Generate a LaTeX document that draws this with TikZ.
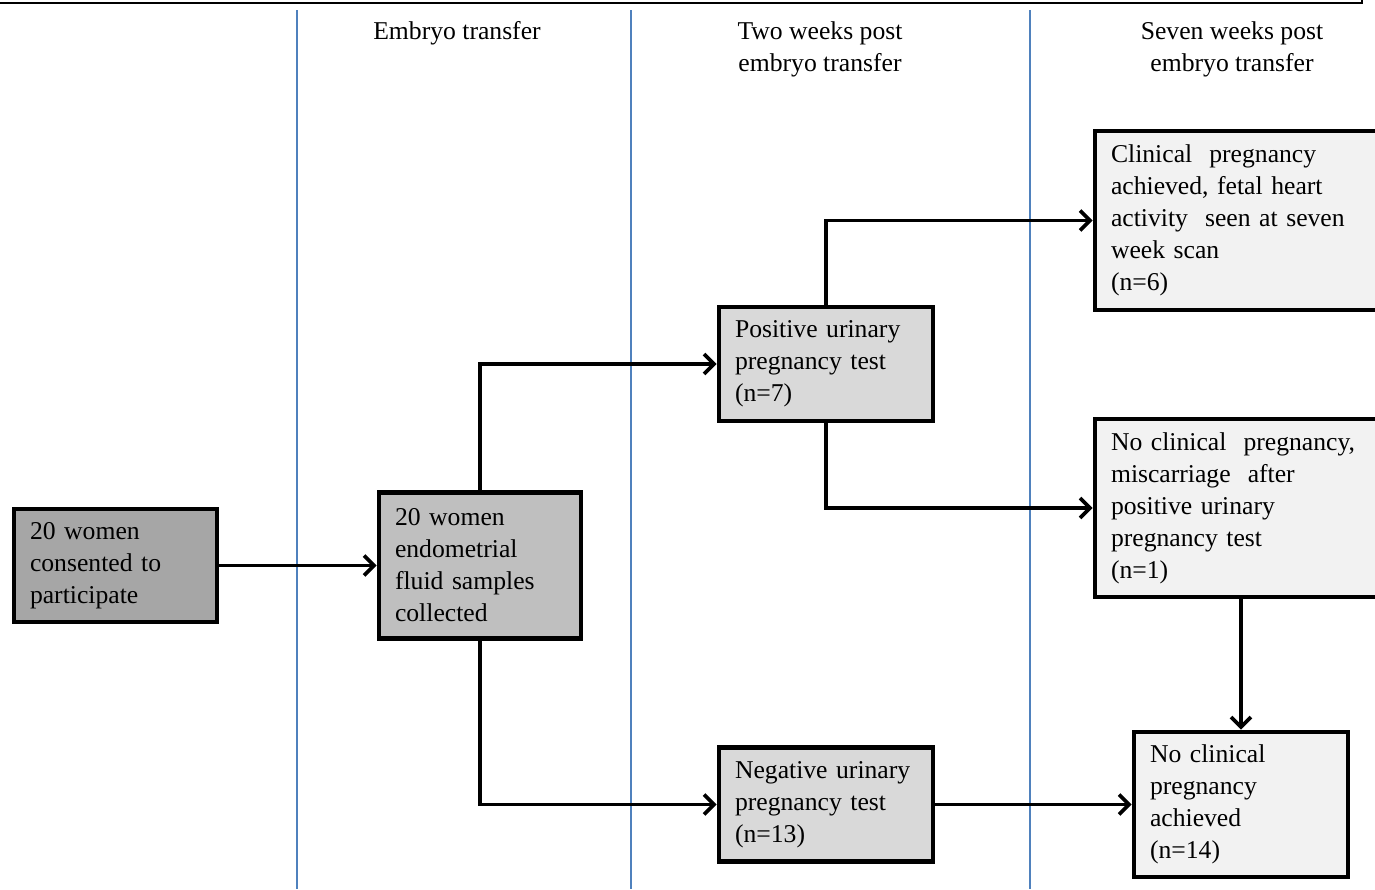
\documentclass[tikz,border=0pt]{standalone}
\usepackage{fontspec}
\setmainfont{Liberation Serif}
\usetikzlibrary{arrows.meta}

\begin{document}
\begin{tikzpicture}[x = 0.02cm, y = -0.02cm,
	box/.style = {draw, line width = 2.7pt, inner xsep = 0.32cm, inner ysep = 0pt, align = left},
	flow/.style = {line width = 2.1pt, -{Straight Barb[length = 0.2cm, width = 0.4cm]}},
	stage/.style = {align = center, font = \fontsize{14.6}{18.2}\selectfont}]

\useasboundingbox (0,0) rectangle (1375, 889);
\fontsize{14.6}{18.2}\selectfont

\draw[line width = 1.1pt] (0, 3) -- (1362, 3) -- (1362, -2);

\foreach \x in {297, 631, 1030} {
	\draw[color = {rgb,255:red,79;green,129;blue,189}, line width = 0.6pt] (\x, 10) -- (\x, 889);
}

\node[stage] (hdtransfer) at (457, 33) {Embryo transfer};
\node[stage] (hdtwo) at (820, 49) {Two weeks post\\embryo transfer};
\node[stage] (hdseven) at (1232, 49) {Seven weeks post\\embryo transfer};

\node[box, fill = {rgb,255:red,166;green,166;blue,166}, minimum width = 4.06cm, minimum height = 2.26cm, text width = 3.42cm] (women) at (115.5, 565.5) {20 women\\consented to\\participate};
\node[box, fill = {rgb,255:red,191;green,191;blue,191}, minimum width = 4.04cm, minimum height = 2.92cm, text width = 3.40cm] (samples) at (480, 565.5) {20 women\\endometrial\\fluid samples\\collected};
\node[box, fill = {rgb,255:red,217;green,217;blue,217}, minimum width = 4.28cm, minimum height = 2.28cm, text width = 3.64cm] (positive) at (826, 364) {Positive urinary\\pregnancy test\\(n=7)};
\node[box, fill = {rgb,255:red,217;green,217;blue,217}, minimum width = 4.28cm, minimum height = 2.28cm, text width = 3.64cm] (negative) at (826, 804.5) {Negative urinary\\pregnancy test\\(n=13)};
\node[box, fill = {rgb,255:red,242;green,242;blue,242}, minimum width = 5.70cm, minimum height = 3.58cm, text width = 5.06cm] (clinical) at (1237.5, 220.5) {Clinical\ \ pregnancy\\achieved, fetal heart\\activity\ \ seen at seven\\week scan\\(n=6)};
\node[box, fill = {rgb,255:red,242;green,242;blue,242}, minimum width = 5.70cm, minimum height = 3.56cm, text width = 5.06cm] (miscarriage) at (1237.5, 508) {No clinical\ \ pregnancy,\\miscarriage\ \ after\\positive urinary\\pregnancy test\\(n=1)};
\node[box, fill = {rgb,255:red,242;green,242;blue,242}, minimum width = 4.28cm, minimum height = 2.90cm, text width = 3.64cm] (noclinical) at (1241, 804.5) {No clinical\\pregnancy\\achieved\\(n=14)};

\draw[flow] (women) -- (samples);
\draw[flow] (samples.north) |- (positive.west);
\draw[flow] (samples.south) |- (negative.west);
\draw[flow] (positive.north) |- (clinical.west);
\draw[flow] (positive.south) |- (miscarriage.west);
\draw[flow] (miscarriage.south -| noclinical.north) -- (noclinical.north);
\draw[flow] (negative) -- (noclinical);

\end{tikzpicture}
\end{document}
